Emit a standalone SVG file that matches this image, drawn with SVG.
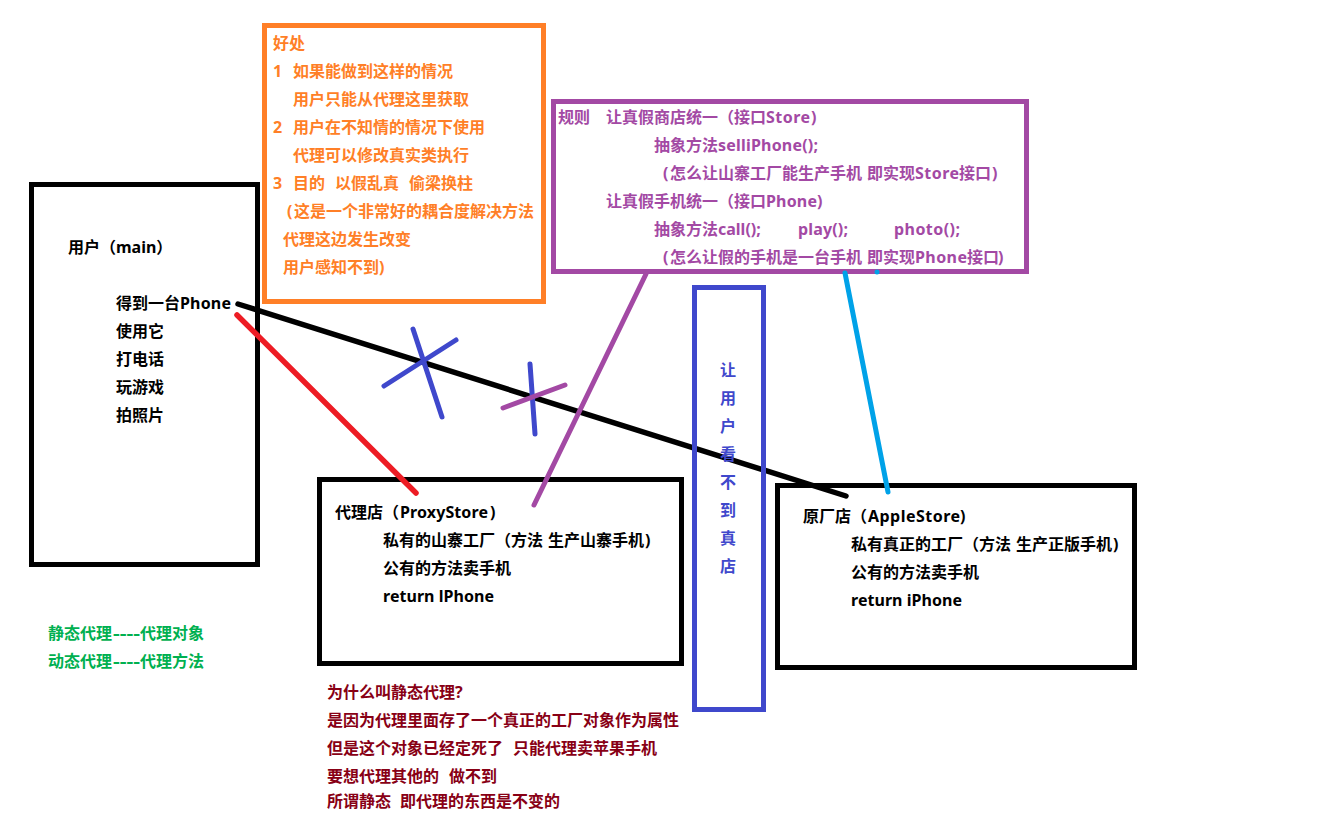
<svg xmlns="http://www.w3.org/2000/svg" width="1327" height="824" viewBox="0 0 1327 824">
<style>
text{font-family:"Noto Sans","Noto Sans CJK SC",sans-serif;font-size:16px;font-weight:700;white-space:pre}
.box{fill:none;stroke-width:5}
.k{fill:#000}.o{fill:#ff7f27}.p{fill:#a349a4}.b{fill:#3f48cc}.g{fill:#00b050}.r{fill:#880015}
.ln{fill:none;stroke-linecap:round;stroke-width:5}
.w{stroke-width:5.500}
</style>
<rect width="1327" height="824" fill="#fff"/>
<g id="user"><rect class="box" stroke="#000" x="31.500" y="184.500" width="226" height="380"/>
<text class="k" x="68" y="253">用户（main）</text>
<text class="k" x="116" y="309">得到一台</text><text class="k" x="180" y="309" textLength="51">Phone</text>
<text class="k" x="116" y="337">使用它</text>
<text class="k" x="116" y="365">打电话</text>
<text class="k" x="116" y="393">玩游戏</text>
<text class="k" x="116" y="421">拍照片</text></g>
<g id="benefits"><rect class="box" stroke="#ff7f27" x="264.500" y="25.500" width="279" height="276"/>
<text class="o" x="273" y="49">好处</text>
<text class="o" x="273" y="77">1</text><text class="o" x="293" y="77">如果能做到这样的情况</text>
<text class="o" x="293" y="105">用户只能从代理这里获取</text>
<text class="o" x="273" y="133">2</text><text class="o" x="293" y="133">用户在不知情的情况下使用</text>
<text class="o" x="293" y="161">代理可以修改真实类执行</text>
<text class="o" x="273" y="189">3</text><text class="o" x="293" y="189">目的</text><text class="o" x="335" y="189">以假乱真</text><text class="o" x="409" y="189">偷梁换柱</text>
<text class="o" x="287" y="217">(</text><text class="o" x="294" y="217">这是一个非常好的耦合度解决方法</text>
<text class="o" x="283" y="245">代理这边发生改变</text>
<text class="o" x="283" y="273">用户感知不到)</text></g>
<g id="rules"><rect class="box" stroke="#a349a4" x="553.500" y="101.500" width="473" height="170"/>
<text class="p" x="558" y="123">规则</text><text class="p" x="606" y="123">让真假商店统一（接口</text><text class="p" x="766" y="123" textLength="44">Store</text><text class="p" x="811" y="123">)</text>
<text class="p" x="654" y="151">抽象方法</text><text class="p" x="718" y="151" textLength="100">selliPhone();</text>
<text class="p" x="663" y="179">(</text><text class="p" x="670" y="179">怎么让山寨工厂能生产手机</text><text class="p" x="867" y="179">即实现</text><text class="p" x="915" y="179" textLength="44">Store</text><text class="p" x="959" y="179">接口</text><text class="p" x="992" y="179">)</text>
<text class="p" x="606" y="207">让真假手机统一（接口</text><text class="p" x="766" y="207" textLength="51">Phone</text><text class="p" x="817" y="207">)</text>
<text class="p" x="654" y="235">抽象方法call();</text><text class="p" x="798" y="235" textLength="50">play();</text><text class="p" x="894" y="235" textLength="66">photo();</text>
<text class="p" x="663" y="263">(</text><text class="p" x="670" y="263">怎么让假的手机是一台手机</text><text class="p" x="867" y="263">即实现</text><text class="p" x="915" y="263" textLength="52">Phone</text><text class="p" x="967" y="263">接口</text><text class="p" x="998" y="263">)</text></g>
<g id="proxy"><rect class="box" stroke="#000" x="319.500" y="479.500" width="362" height="184"/>
<text class="k" x="335" y="518">代理店（</text><text class="k" x="400" y="518" textLength="88">ProxyStore</text><text class="k" x="490" y="518">)</text>
<text class="k" x="383" y="546">私有的山寨工厂（方法</text><text class="k" x="548" y="546">生产山寨手机</text><text class="k" x="645" y="546">)</text>
<text class="k" x="383" y="574">公有的方法卖手机</text>
<text class="k" x="383" y="602" textLength="111">return lPhone</text></g>
<g id="apple"><rect class="box" stroke="#000" x="777.500" y="485.500" width="357" height="182"/>
<text class="k" x="803" y="522">原厂店（</text><text class="k" x="868" y="522" textLength="92">AppleStore</text><text class="k" x="960" y="522">)</text>
<text class="k" x="851" y="550">私有真正的工厂（方法</text><text class="k" x="1016" y="550">生产正版手机</text><text class="k" x="1113" y="550">)</text>
<text class="k" x="851" y="578">公有的方法卖手机</text>
<text class="k" x="851" y="606" textLength="111">return iPhone</text></g>
<g id="connectors">
<path class="ln w" stroke="#000" d="M238 304L846 496"/>
<path class="ln w" stroke="#ed1c24" d="M237 315L416 493"/>
<path class="ln" stroke="#a349a4" d="M646 274L534 505"/>
<path class="ln" stroke="#00a2e8" d="M845 273L888 492"/>
<path class="ln" stroke="#00a2e8" d="M877 272L877 272"/>
<path class="ln" stroke="#3f48cc" d="M384 386L456 340M413 329L442 417"/>
<path class="ln" stroke="#3f48cc" d="M530 364L535 434"/>
<path class="ln" stroke="#a349a4" d="M503 408L565 385"/>
</g>
<g id="hide"><rect class="box" stroke="#3f48cc" x="694.500" y="287.500" width="69" height="422"/>
<text class="b" x="720" y="376">让</text><text class="b" x="720" y="404">用</text><text class="b" x="720" y="432">户</text><text class="b" x="720" y="460">看</text><text class="b" x="720" y="488">不</text><text class="b" x="720" y="516">到</text><text class="b" x="720" y="544">真</text><text class="b" x="720" y="572">店</text></g>
<g id="note-green"><text class="g" x="48" y="639">静态代理</text><text class="g" x="113" y="639" textLength="27" lengthAdjust="spacingAndGlyphs">----</text><text class="g" x="140" y="639">代理对象</text>
<text class="g" x="48" y="667">动态代理</text><text class="g" x="113" y="667" textLength="27" lengthAdjust="spacingAndGlyphs">----</text><text class="g" x="140" y="667">代理方法</text></g>
<g id="note-red"><text class="r" x="327" y="698">为什么叫静态代理?</text>
<text class="r" x="327" y="726">是因为代理里面存了一个真正的工厂对象作为属性</text>
<text class="r" x="327" y="754">但是这个对象已经定死了</text><text class="r" x="513" y="754">只能代理卖苹果手机</text>
<text class="r" x="327" y="782">要想代理其他的</text><text class="r" x="449" y="782">做不到</text>
<text class="r" x="327" y="807">所谓静态</text><text class="r" x="400" y="807">即代理的东西是不变的</text></g>
</svg>
